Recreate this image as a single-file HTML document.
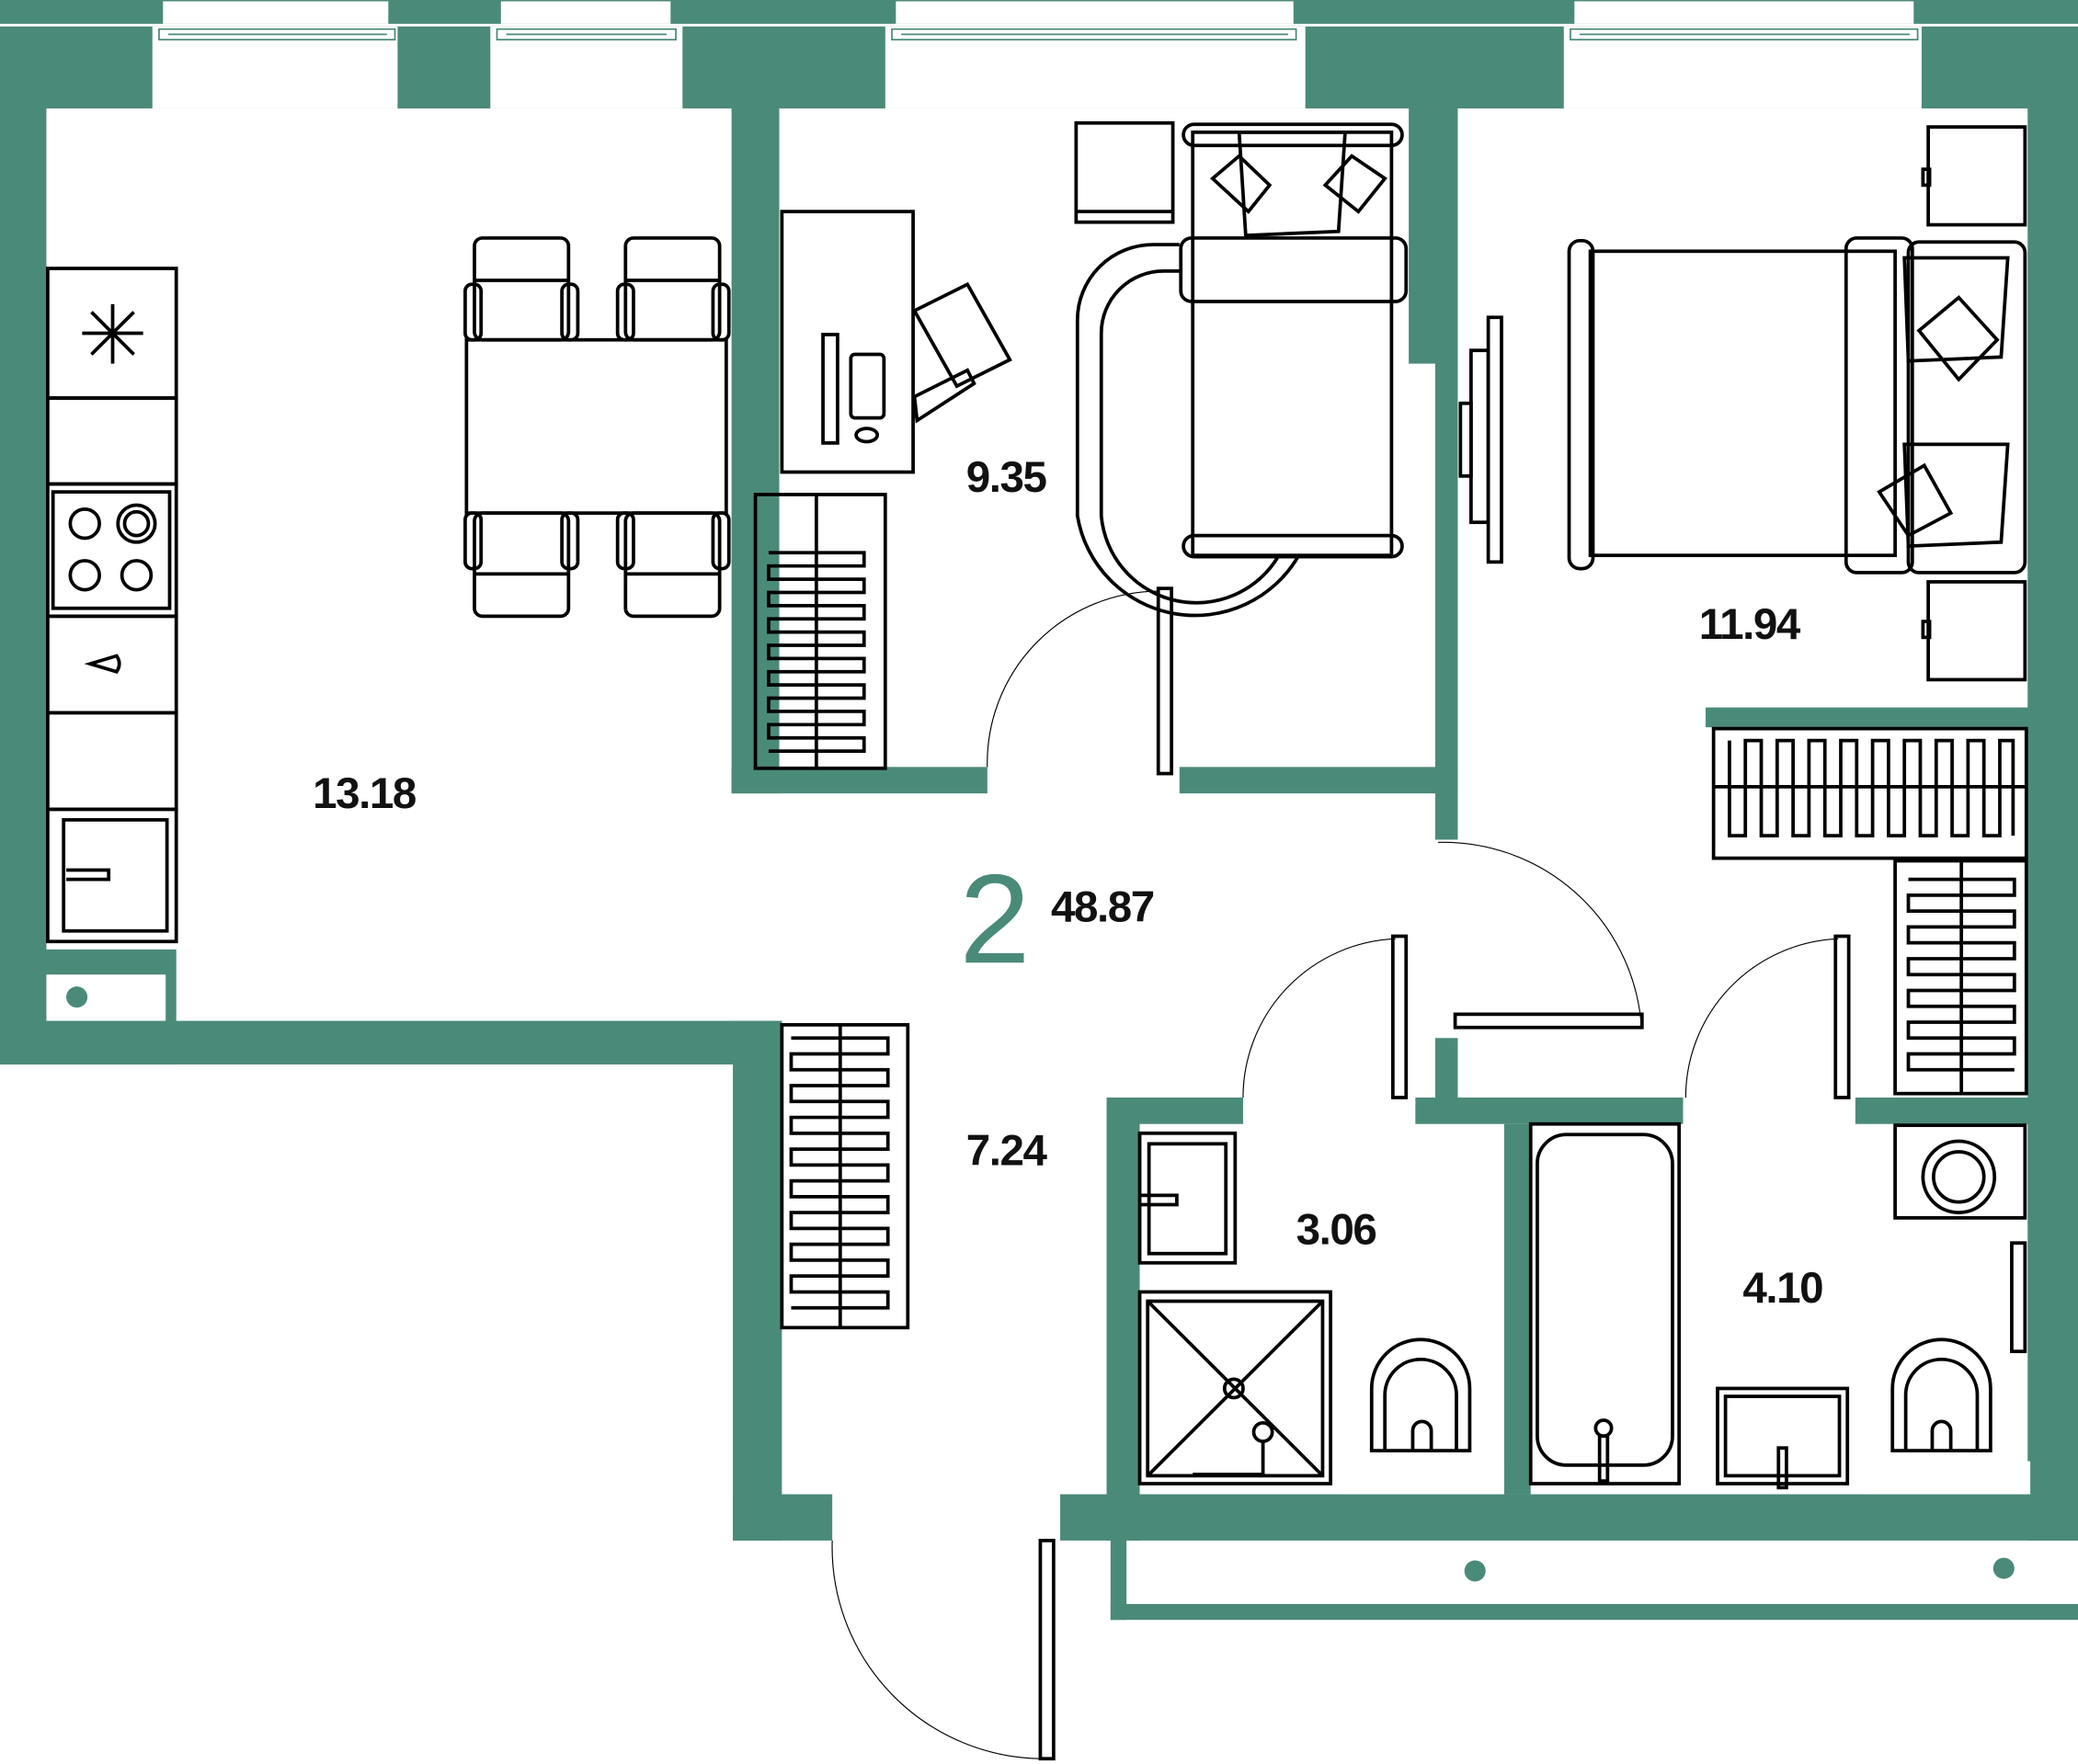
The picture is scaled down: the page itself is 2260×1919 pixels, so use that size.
<!DOCTYPE html>
<html><head><meta charset="utf-8"><style>
html,body{margin:0;padding:0;background:#fff}
svg{display:block}
text{font-family:"Liberation Sans",sans-serif}
</style></head><body>
<svg width="2260" height="1919" viewBox="0 0 1568 1334" preserveAspectRatio="none" xmlns="http://www.w3.org/2000/svg">
<g fill="#4a8a79">
<rect x="0" y="0" width="1568" height="82"/>
<rect x="0" y="0" width="35" height="805"/>
<rect x="0" y="718" width="133" height="87"/>
<rect x="0" y="772" width="590" height="33"/>
<rect x="553" y="772" width="37" height="393"/>
<rect x="553" y="1130" width="75" height="35"/>
<rect x="552" y="70" width="36" height="530"/>
<rect x="552" y="580" width="193" height="20"/>
<rect x="890" y="580" width="210" height="20"/>
<rect x="1063" y="70" width="37" height="205"/>
<rect x="1083" y="270" width="17" height="365"/>
<rect x="1287" y="535" width="245" height="15"/>
<rect x="1530" y="0" width="38" height="1165"/>
<rect x="1083" y="785" width="17" height="60"/>
<rect x="835" y="830" width="103" height="20"/>
<rect x="1068" y="830" width="202" height="20"/>
<rect x="1400" y="830" width="132" height="20"/>
<rect x="835" y="830" width="25" height="335"/>
<rect x="1135" y="850" width="20" height="280"/>
<rect x="800" y="1130" width="768" height="35"/>
<rect x="838" y="1160" width="12" height="65"/>
<rect x="838" y="1213" width="730" height="12"/>
</g>
<g fill="#fff">
<rect x="35" y="737" width="90" height="35"/>
<rect x="1013" y="1105" width="122" height="25"/>
<rect x="1407" y="1105" width="125" height="25"/>
<rect x="115" y="20" width="185" height="62"/>
<rect x="370" y="20" width="145" height="62"/>
<rect x="668" y="20" width="317" height="62"/>
<rect x="1180" y="20" width="270" height="62"/>
<rect x="123" y="1" width="170" height="17"/>
<rect x="378" y="1" width="128" height="17"/>
<rect x="676" y="1" width="300" height="17"/>
<rect x="1188" y="1" width="256" height="17"/>
<rect x="0" y="18" width="1568" height="2"/>
</g>
<g fill="none" stroke="#4a8a79" stroke-width="1.2">
<rect x="120" y="22" width="178" height="8"/><rect x="375" y="22" width="135" height="8"/>
<rect x="673" y="22" width="305" height="8"/><rect x="1185" y="22" width="262" height="8"/>
<line x1="127" y1="26" x2="292" y2="26"/><line x1="382" y1="26" x2="503" y2="26"/>
<line x1="680" y1="26" x2="972" y2="26"/><line x1="1192" y1="26" x2="1441" y2="26"/>
</g>
<g fill="#4a8a79"><circle cx="58" cy="754" r="8"/><circle cx="1113" cy="1188" r="8"/><circle cx="1512" cy="1186" r="8"/></g>

<g fill="none" stroke="#000" stroke-width="2.6">
<rect x="36" y="203" width="97" height="98"/>
<rect x="36" y="301" width="97" height="65"/>
<rect x="36" y="366" width="97" height="100"/>
<rect x="40" y="372" width="88" height="88"/>
<circle cx="64" cy="396" r="11"/><circle cx="103" cy="396" r="14"/><circle cx="103" cy="396" r="9"/>
<circle cx="64" cy="435" r="11"/><circle cx="103" cy="435" r="11"/>
<rect x="36" y="466" width="97" height="73"/>
<path d="M68 502 L88 496 Q92 502 88 508 Z"/>
<rect x="36" y="539" width="97" height="73"/>
<rect x="36" y="612" width="97" height="100"/>
<rect x="48" y="620" width="78" height="84"/>
<path d="M50 658 H82 V665 H50"/>
<path d="M85 230 V275 M62 252 H108 M69 236 L101 268 M101 236 L69 268"/>
<rect x="352" y="257" width="196" height="131"/>
<rect x="358" y="180" width="71" height="77" rx="6"/><line x1="358" y1="212" x2="429" y2="212"/>
<rect x="472" y="180" width="71" height="77" rx="6"/><line x1="472" y1="212" x2="543" y2="212"/>
<rect x="358" y="388" width="71" height="78" rx="6"/><line x1="358" y1="434" x2="429" y2="434"/>
<rect x="472" y="388" width="71" height="78" rx="6"/><line x1="472" y1="434" x2="543" y2="434"/>
<rect x="351" y="215" width="12" height="42" rx="5"/><rect x="424" y="215" width="12" height="42" rx="5"/>
<rect x="466" y="215" width="12" height="42" rx="5"/><rect x="538" y="215" width="12" height="42" rx="5"/>
<rect x="351" y="388" width="12" height="42" rx="5"/><rect x="424" y="388" width="12" height="42" rx="5"/>
<rect x="466" y="388" width="12" height="42" rx="5"/><rect x="538" y="388" width="12" height="42" rx="5"/>
<rect x="590" y="160" width="99" height="197"/>
<rect x="621" y="253" width="11" height="82"/><rect x="642" y="268" width="25" height="48" rx="3"/>
<ellipse cx="654" cy="329" rx="8" ry="5"/>
<path d="M690 235 L730 215 L762 272 L722 292 Z M690 300 L730 280 L735 290 L692 318 Z"/>
<rect x="812" y="93" width="73" height="75"/><line x1="812" y1="160" x2="885" y2="160"/>
<rect x="570" y="374" width="98" height="207"/><line x1="616" y1="374" x2="616" y2="581"/>
<rect x="590" y="775" width="95" height="229"/><line x1="634" y1="775" x2="634" y2="1004"/>
<rect x="1293" y="551" width="236" height="98"/><line x1="1293" y1="595" x2="1529" y2="595"/>
<rect x="1430" y="651" width="99" height="176"/><line x1="1480" y1="651" x2="1480" y2="827"/>
<path d="M890 185 H870 A57 57 0 0 0 813 242 V390 A90 90 0 0 0 980 420"/>
<path d="M890 205 H878 A47 47 0 0 0 831 252 V390 A72 72 0 0 0 965 420"/>
<rect x="900" y="100" width="150" height="320"/>
<rect x="893" y="94" width="165" height="16" rx="8"/>
<rect x="893" y="405" width="165" height="16" rx="8"/>
<rect x="891" y="180" width="170" height="48" rx="8"/>
<path d="M935 100 L1015 100 L1010 175 L940 178 Z"/>
<path d="M915 135 L935 118 L958 140 L942 160 Z"/><path d="M1000 140 L1020 118 L1045 135 L1025 160 Z"/>
<rect x="874" y="445" width="10" height="140"/>
<rect x="1123" y="240" width="10" height="185"/><rect x="1110" y="265" width="13" height="130"/>
<rect x="1102" y="305" width="8" height="55"/>
<rect x="1200" y="190" width="230" height="230"/>
<rect x="1184" y="182" width="18" height="248" rx="8"/>
<rect x="1393" y="180" width="50" height="253" rx="8"/>
<rect x="1440" y="183" width="88" height="250" rx="8"/>
<path d="M1437 195 L1515 195 L1510 270 L1440 273 Z"/><path d="M1437 336 L1515 336 L1510 410 L1440 413 Z"/>
<path d="M1448 250 L1478 225 L1507 257 L1478 287 Z"/><path d="M1418 372 L1452 352 L1472 388 L1440 405 Z"/>
<rect x="1455" y="96" width="73" height="74"/><rect x="1451" y="128" width="5" height="12"/>
<rect x="1455" y="440" width="73" height="74"/><rect x="1451" y="470" width="5" height="12"/>
<rect x="1098" y="767" width="141" height="10"/>
<rect x="1051" y="708" width="10" height="122"/>
<rect x="1385" y="708" width="10" height="122"/>
<rect x="785" y="1165" width="10" height="165"/>
<rect x="860" y="857" width="72" height="98"/><rect x="867" y="865" width="58" height="83"/>
<path d="M860 904 H888 V911 H860"/>
<rect x="860" y="977" width="144" height="145"/><rect x="866" y="984" width="132" height="132"/>
<path d="M866 984 L998 1116 M998 984 L866 1116"/><circle cx="931" cy="1050" r="7"/>
<circle cx="953" cy="1083" r="7"/><path d="M953 1090 V1115 H900"/>
<path d="M1035 1097 V1050 A37 37 0 0 1 1109 1050 V1097 Z"/><path d="M1045 1097 V1055 A27 27 0 0 1 1099 1055 V1097"/>
<path d="M1066 1097 V1082 A7 7 0 0 1 1080 1082 V1097"/>
<rect x="1155" y="850" width="112" height="272"/>
<rect x="1160" y="858" width="102" height="250" rx="22"/>
<circle cx="1210" cy="1080" r="6"/><rect x="1207" y="1086" width="6" height="34"/>
<rect x="1296" y="1050" width="98" height="72"/><rect x="1302" y="1056" width="86" height="60"/>
<rect x="1342" y="1095" width="6" height="30"/>
<path d="M1428 1097 V1050 A37 37 0 0 1 1502 1050 V1097 Z"/><path d="M1438 1097 V1055 A27 27 0 0 1 1492 1055 V1097"/>
<path d="M1458 1097 V1082 A7 7 0 0 1 1472 1082 V1097"/>
<rect x="1430" y="851" width="98" height="70"/><circle cx="1478" cy="890" r="27"/><circle cx="1478" cy="890" r="19"/>
<rect x="1518" y="940" width="10" height="82"/>
<path d="M580 418 H652 V428 H580 V438 H652 V448 H580 V458 H652 V468 H580 V478 H652 V488 H580 V498 H652 V508 H580 V518 H652 V528 H580 V538 H652 V548 H580 V558 H652 V568 H580"/>
<path d="M597 785 H670 V797 H597 V809 H670 V821 H597 V833 H670 V845 H597 V857 H670 V869 H597 V881 H670 V893 H597 V905 H670 V917 H597 V929 H670 V941 H597 V953 H670 V965 H597 V977 H670 V989 H597"/>
<path d="M1440 665 H1520 V677 H1440 V689 H1520 V701 H1440 V713 H1520 V725 H1440 V737 H1520 V749 H1440 V761 H1520 V773 H1440 V785 H1520 V797 H1440 V809 H1520"/>
<path d="M1305 560 V632 H1317 V560 H1329 V632 H1341 V560 H1353 V632 H1365 V560 H1377 V632 H1389 V560 H1401 V632 H1413 V560 H1425 V632 H1437 V560 H1449 V632 H1461 V560 H1473 V632 H1485 V560 H1497 V632 H1509 V560 H1519 V632"/>
</g>
<g fill="none" stroke="#000" stroke-width="0.8">
<path d="M745 580 A130 130 0 0 1 874 447"/>
<path d="M1085 637 A150 150 0 0 1 1238 770"/>
<path d="M938 830 A120 120 0 0 1 1053 710"/>
<path d="M1272 830 A120 120 0 0 1 1387 710"/>
<path d="M628 1165 A160 160 0 0 0 787 1330"/>
</g>
<g font-size="33" fill="#111" font-weight="bold" letter-spacing="-1">
<text x="236" y="611">13.18</text>
<text x="729" y="372">9.35</text>
<text x="1282" y="483">11.94</text>
<text x="793" y="697">48.87</text>
<text x="729" y="881">7.24</text>
<text x="978" y="941">3.06</text>
<text x="1315" y="985">4.10</text>
</g>
<text x="724" y="728" font-size="96" fill="#4a8a79">2</text>
</svg>
</body></html>
